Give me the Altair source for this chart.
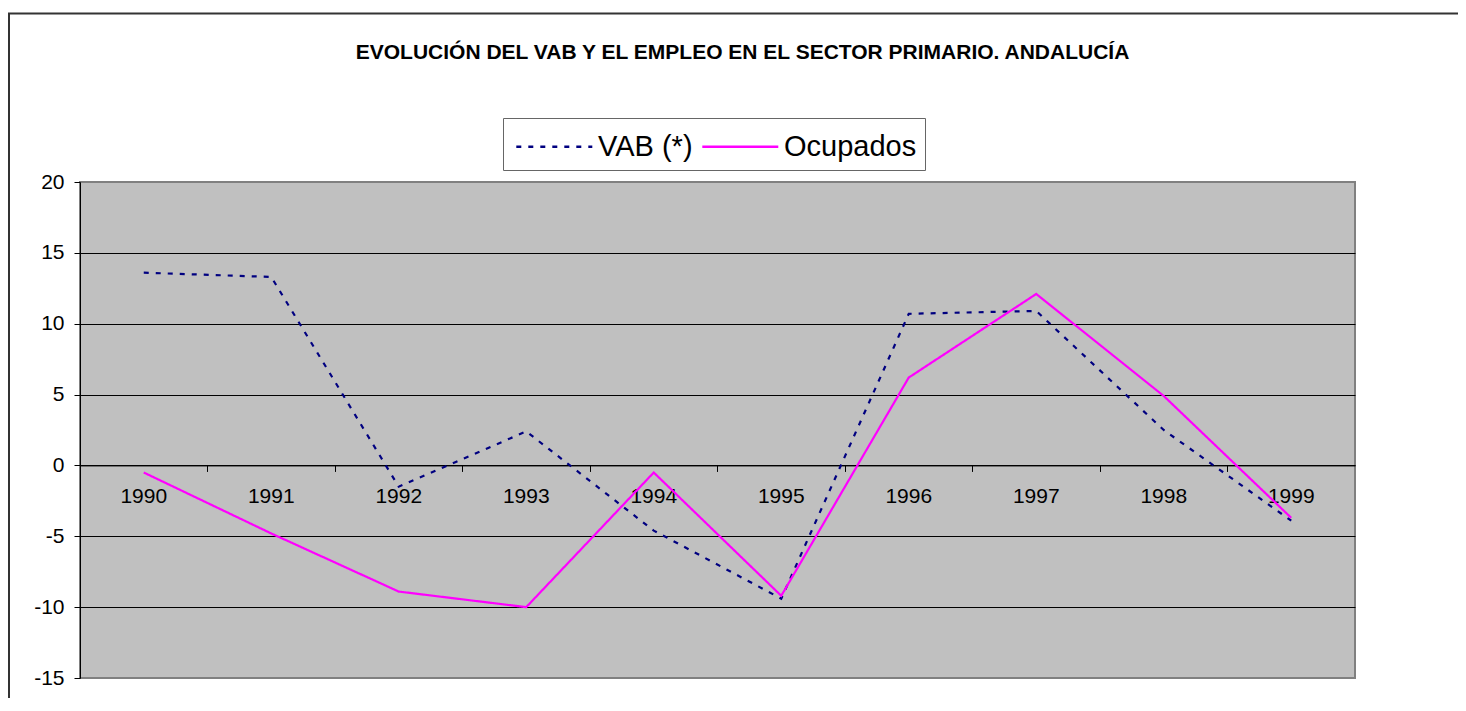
import altair as alt
import pandas as pd

years = ["1990", "1991", "1992", "1993", "1994", "1995", "1996", "1997", "1998", "1999"]
vab = [13.6, 13.3, -1.5, 2.4, -4.6, -9.4, 10.7, 10.9, 2.5, -3.9]
ocupados = [-0.5, -4.8, -8.9, -10.0, -0.5, -9.2, 6.2, 12.1, 4.9, -3.7]
series_names = ["VAB (*)", "Ocupados"]
y_ticks = [-15, -10, -5, 0, 5, 10, 15, 20]

rows = []
for y, v in zip(years, vab):
    rows.append({"year": y, "series": series_names[0], "value": v})
for y, v in zip(years, ocupados):
    rows.append({"year": y, "series": series_names[1], "value": v})
df = pd.DataFrame(rows)

W, H = 1275, 496
FONT = "Liberation Sans"
zero_from_top = 20 / 35 * H

legend = alt.Legend(
    orient="none", legendX=423, legendY=-64, direction="horizontal", title=None,
    symbolType="M-0.8,0H3.2", symbolSize=1444, symbolStrokeWidth=2.5,
    labelFontSize=29, labelFont=FONT, labelColor="black", labelOffset=46,
    columnPadding=4, padding=8, strokeColor="#666666", fillColor="white",
)

lines = alt.Chart(df).mark_line(strokeWidth=2.2).encode(
    x=alt.X("year:O", scale=alt.Scale(type="band", paddingInner=0, paddingOuter=0),
            bandPosition=0.5,
            axis=alt.Axis(orient="bottom", offset=-(H - zero_from_top), bandPosition=0,
                          tickSize=6, tickColor="black", domainColor="black",
                          labelFontSize=21, labelFont=FONT, labelColor="black",
                          labelPadding=14, labelAngle=0, grid=False, title=None)),
    y=alt.Y("value:Q", scale=alt.Scale(domain=[-15, 20], nice=False, zero=False),
            axis=alt.Axis(values=y_ticks, tickSize=6, tickColor="black", domainColor="black",
                          labelFontSize=21, labelFont=FONT, labelColor="black",
                          labelExpr="toString(datum.value)",
                          labelPadding=10, gridColor="black", gridWidth=1,
                          gridOpacity={"condition": {"test": "datum.value == 20 || datum.value == -15", "value": 0}, "value": 1},
                          title=None)),
    color=alt.Color("series:N", scale=alt.Scale(domain=series_names, range=["#000080", "#FF00FF"]),
                    legend=legend),
    strokeDash=alt.StrokeDash("series:N", scale=alt.Scale(domain=series_names, range=[[5, 7], [1, 0]]),
                              legend=legend),
)

border = alt.Chart(alt.Data(values=[{"a": 1}])).mark_rect(
    fill="transparent", stroke="#333333", strokeWidth=2, clip=False
).encode(
    x=alt.value(-71), x2=alt.value(W + 200),
    y=alt.value(-168.5), y2=alt.value(H + 100),
)

chart = alt.layer(border, lines).properties(
    width=W, height=H,
    padding={"left": 72, "top": 174, "right": 103, "bottom": 20},
    autosize=alt.AutoSizeParams(type="none"),
    background="white",
    title=alt.TitleParams(
        "EVOLUCIÓN DEL VAB Y EL EMPLEO EN EL SECTOR PRIMARIO. ANDALUCÍA",
        font=FONT, fontSize=21, fontWeight="bold", color="black",
        anchor="middle", dx=25, offset=0, dy=50,
    ),
).configure_view(fill="#C0C0C0", stroke="#808080", strokeWidth=2)

chart.save("out.html", embed_options={"renderer": "svg", "actions": False})
